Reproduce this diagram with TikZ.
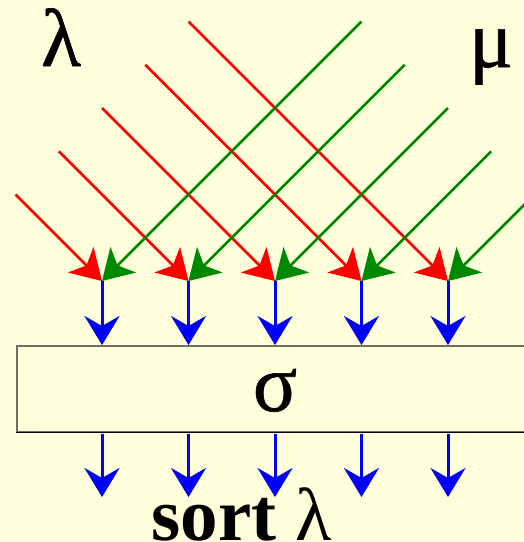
\documentclass[tikz,border=0pt]{standalone}
\usepackage{fontspec}
\setmainfont{Liberation Serif}
\newfontfamily\greekfont[FakeBold=0.8]{Liberation Serif}
\usetikzlibrary{arrows.meta}
\definecolor{bg}{RGB}{255,255,220}
\definecolor{grn}{RGB}{0,136,0}
\definecolor{boxgray}{RGB}{110,110,100}
\begin{document}
\begin{tikzpicture}[x=1pt,y=-1pt,
  redarrow/.style={draw=red, line width=2.7pt, -{Stealth[length=30pt,width=36pt,inset=8pt]}},
  greenarrow/.style={draw=grn, line width=2.7pt, -{Stealth[length=30pt,width=36pt,inset=8pt]}},
  bluearrow/.style={draw=blue, line width=3pt, -{Stealth[length=29pt,width=35pt,inset=10pt]}},
  bigtext/.style={font=\fontsize{75}{80}\selectfont, inner sep=0pt, anchor=base},
  greektext/.style={font=\fontsize{82}{86}\selectfont\greekfont, inner sep=0pt, anchor=base}]
\clip (0,0) rectangle (524,542);
\fill[bg] (0,0) rectangle (524,542);
% box
\node[draw=boxgray, line width=1.5pt, fill=bg, minimum width=540pt, minimum height=86pt,
      anchor=north west, inner sep=0pt] (box) at (16,345) {};
\draw[black, line width=1.5pt] (box.south west) -- (box.south east);
\node[greektext] (sigma) at (275,411) {σ};
% meeting points and starts
\foreach \i in {1,...,5} {
  \pgfmathsetmacro{\mx}{102+86.5*(\i-1)}
  \pgfmathsetmacro{\dr}{86.5+43.25*(\i-1)}
  \pgfmathsetmacro{\dg}{86.5+43.25*(5-\i)}
  \coordinate (m\i) at (\mx,281);
  \coordinate (r\i) at (\mx-\dr,281-\dr);
  \coordinate (g\i) at (\mx+\dg,281-\dg);
  \coordinate (o\i) at (\mx,497);
}
\foreach \i in {1,...,5} {
  \draw[redarrow] (r\i) -- (m\i);
}
\foreach \i in {1,...,5} {
  \draw[greenarrow] (g\i) -- (m\i);
}
\foreach \i in {1,...,5} {
  \draw[bluearrow] (m\i) -- (m\i |- box.north);
  \draw[bluearrow] (m\i |- box.south) ++(0,1) -- (o\i);
}
% labels
\node[greektext] (lambda) at (61,66) {λ};
\node[greektext] (mu) at (491,67) {μ};
\node[bigtext] (sortlabel) at (241.5,540) {\textbf{sort} λ};
\end{tikzpicture}
\end{document}
